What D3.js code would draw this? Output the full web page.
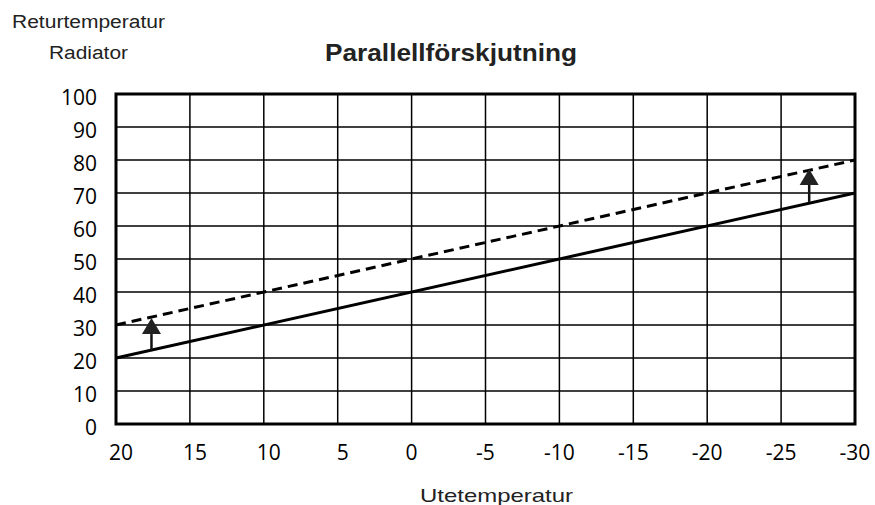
<!DOCTYPE html>
<html><head><meta charset="utf-8">
<script src="https://cdn.jsdelivr.net/npm/d3@7/dist/d3.min.js"></script>
<style>body{margin:0;background:#fff}</style>
</head><body><svg id="c" width="875" height="505"></svg>
<script>
const xTicks = [20,15,10,5,0,-5,-10,-15,-20,-25,-30];
const yTicks = [0,10,20,30,40,50,60,70,80,90,100];
const solidLine = [[20,20],[-30,70]];
const dashedLine = [[20,30],[-30,80]];
const arrows = [{x:17.6, from:22.4, to:32.1},{x:-26.9, from:67.3, to:77.3}];

const svg = d3.select("#c");
const L=116, R=855, T=94, B=424;
const x = d3.scaleLinear().domain([20,-30]).range([L,R]);
const y = d3.scaleLinear().domain([0,100]).range([B,T]);

const g = svg.append("g");
g.selectAll(".vg").data(xTicks).enter().append("line")
  .attr("x1",d=>x(d)).attr("x2",d=>x(d)).attr("y1",T).attr("y2",B)
  .attr("stroke","#000").attr("stroke-width",1.5);
g.selectAll(".hg").data(yTicks).enter().append("line")
  .attr("y1",d=>y(d)).attr("y2",d=>y(d)).attr("x1",L).attr("x2",R)
  .attr("stroke","#000").attr("stroke-width",1.5);

const line = d3.line().x(d=>x(d[0])).y(d=>y(d[1]));
g.append("path").attr("d",line(solidLine)).attr("stroke","#000").attr("stroke-width",3).attr("fill","none");
g.append("path").attr("d",line(dashedLine)).attr("stroke","#000").attr("stroke-width",3).attr("fill","none").attr("stroke-dasharray","10,6");

arrows.forEach(a=>{
  const xp=x(a.x), y0=y(a.from), yt=y(a.to), hb=yt+16;
  g.append("line").attr("x1",xp).attr("x2",xp).attr("y1",y0).attr("y2",hb)
    .attr("stroke","#111").attr("stroke-width",2.5);
  g.append("path").attr("d",`M${xp},${yt}L${xp-9.5},${hb}L${xp+9.5},${hb}Z`).attr("fill","#222");
});

g.append("rect").attr("x",L).attr("y",T).attr("width",R-L).attr("height",B-T)
  .attr("fill","none").attr("stroke","#000").attr("stroke-width",3);

const f = "'Open Sans', sans-serif";
g.selectAll(".yl").data(yTicks).enter().append("text")
  .attr("x",97).attr("y",d=>y(d)+11).attr("text-anchor","end")
  .attr("font-family",f).attr("font-size",21).attr("fill","#000").text(d=>d);
g.selectAll(".xl").data(xTicks).enter().append("text")
  .attr("x",d=>x(d)+(d>0?5:0)).attr("y",460).attr("text-anchor","middle")
  .attr("font-family",f).attr("font-size",21).attr("fill","#000").text(d=>d);

const a = "Arial, 'Liberation Sans', sans-serif";
function lab(t,xx,yy,fs,w,bold){
  svg.append("text").attr("x",xx).attr("y",yy).attr("font-family",a).attr("font-size",fs)
    .attr("font-weight",bold?"bold":"normal").attr("fill","#222")
    .attr("textLength",w).attr("lengthAdjust","spacingAndGlyphs").text(t);
}
lab("Returtemperatur",12,28,18,153);
lab("Radiator",49,59,18,79);
lab("Parallellförskjutning",325,61,24,252,true);
lab("Utetemperatur",420,502,19,153);
</script></body></html>
